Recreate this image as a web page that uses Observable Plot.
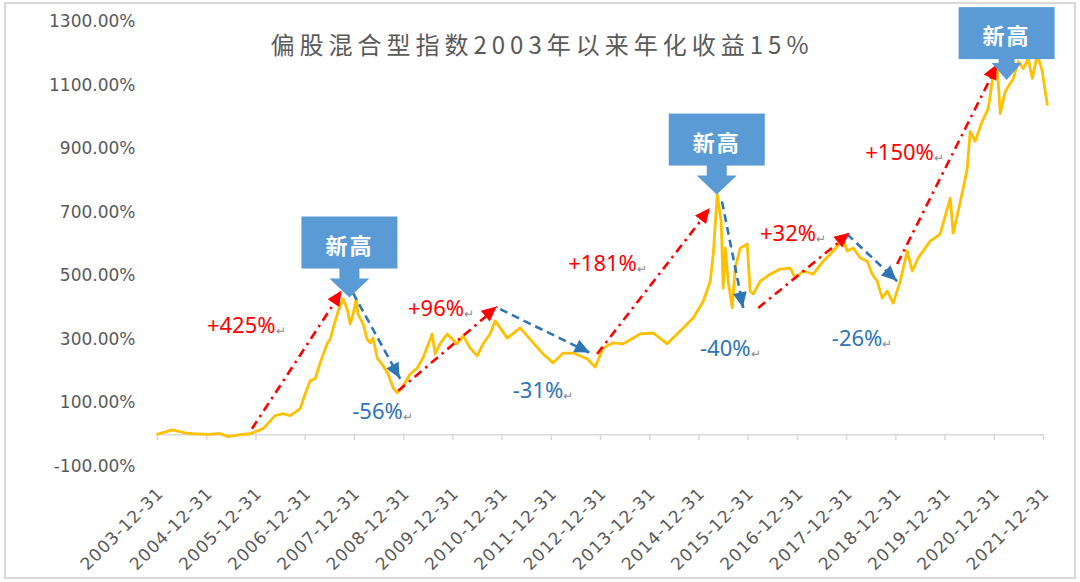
<!DOCTYPE html>
<html><head><meta charset="utf-8">
<script src="https://cdn.jsdelivr.net/npm/d3@7"></script>
<script src="https://cdn.jsdelivr.net/npm/@observablehq/plot@0.6"></script>
<style>
html,body{margin:0;padding:0;background:#fff;}
#wrap{position:relative;width:1080px;height:582px;overflow:hidden;background:#fff;}
#chart{position:absolute;left:0;top:0;}
#title{position:absolute;left:0;top:26px;width:1084px;text-align:center;font-family:"Noto Sans CJK SC",sans-serif;font-size:24px;letter-spacing:5px;color:#595959;}
#border{position:absolute;left:4px;top:2px;width:1068px;height:573px;border:2px solid #d9d9d9;pointer-events:none;}
</style></head><body>
<div id="wrap"><div id="chart"></div><div id="title"></div><div id="border"></div></div>
<script>
const title = "偏股混合型指数2003年以来年化收益15%";

const seriesDates = [
 "2003-12-31","2004-02-25","2004-04-17","2004-07-22","2004-09-20","2005-01-24","2005-04-08","2005-06-07","2005-09-04","2005-11-18",
 "2006-02-22","2006-05-22","2006-07-21","2006-09-11","2006-11-24","2006-12-31","2007-02-06","2007-03-15","2007-04-21","2007-06-12","2007-07-05","2007-07-27","2007-09-02","2007-10-09","2007-11-08","2007-11-30","2007-12-22",
 "2008-01-13","2008-01-27","2008-03-05","2008-04-03","2008-04-26","2008-05-18","2008-06-17","2008-07-31","2008-09-06","2008-10-13","2008-11-12","2008-12-19",
 "2009-02-17","2009-04-10","2009-05-24","2009-07-30","2009-08-21","2009-09-27","2009-11-18","2009-12-25",
 "2010-01-31","2010-03-17","2010-05-08","2010-06-29","2010-08-12","2010-10-03","2010-11-09","2010-12-17",
 "2011-02-07","2011-05-14","2011-08-19","2011-11-01","2012-01-14","2012-03-28","2012-06-11","2012-09-22","2012-11-21",
 "2013-01-19","2013-04-04","2013-06-17","2013-10-21","2014-01-26","2014-05-09","2014-08-14","2014-11-18",
 "2015-02-01","2015-03-25","2015-04-16","2015-05-16","2015-06-14","2015-06-29","2015-07-14","2015-08-05","2015-09-04","2015-09-26","2015-11-02","2015-12-24",
 "2016-01-15","2016-02-07","2016-03-30","2016-06-12","2016-08-25","2016-11-07","2016-12-14","2017-02-12","2017-04-27","2017-07-10","2017-09-23","2017-12-06",
 "2018-01-04","2018-02-18","2018-04-11","2018-06-02","2018-07-09","2018-08-15","2018-09-21","2018-10-28","2018-12-12",
 "2019-02-02","2019-03-26","2019-05-02","2019-06-15","2019-09-12","2019-11-25",
 "2020-02-08","2020-03-01","2020-04-07","2020-05-14","2020-06-13","2020-07-05","2020-08-11","2020-10-02","2020-11-16","2020-12-23",
 "2021-01-22","2021-02-13","2021-03-22","2021-05-21","2021-06-27","2021-08-03","2021-09-09","2021-10-09","2021-11-15","2021-12-22","2022-01-13","2022-01-28"
];
const seriesValues = [
 2,8,15,6,3,1,4,-6,0,3,
 19,60,66,60,82,129,170,176,226,286,301,336,389,427,395,348,380,
 427,380,348,301,289,304,242,217,191,148,132,148,
 191,210,242,317,254,286,317,301,
 286,311,273,248,286,317,358,336,
 304,336,289,254,226,257,257,239,213,
 273,289,286,317,320,286,326,367,
 420,483,568,755,672,461,587,483,399,524,587,600,
 452,443,483,505,521,524,493,515,505,546,578,615,
 578,587,556,546,505,483,430,452,414,
 483,578,515,556,609,631,
 744,634,703,775,838,954,923,986,1026,1133,
 1152,1010,1080,1121,1174,1152,1183,1121,1196,1143,1080,1039
];

const yTicks = [-100, 100, 300, 500, 700, 900, 1100, 1300];
const xTickLabels = ["2003-12-31","2004-12-31","2005-12-31","2006-12-31","2007-12-31","2008-12-31","2009-12-31","2010-12-31","2011-12-31","2012-12-31","2013-12-31","2014-12-31","2015-12-31","2016-12-31","2017-12-31","2018-12-31","2019-12-31","2020-12-31","2021-12-31"];

// trend arrows: up = rise (red dash-dot), down = fall (blue dashed)
const arrowKind = ["up","down","up","down","up","down","up","down","up"];
const arrowFromDates = ["2005-12-01","2007-12-20","2008-11-20","2010-12-17","2012-12-05","2015-06-20","2016-03-15","2018-01-03","2019-01-10"];
const arrowFromValues = [19, 446, 138, 395, 254, 734, 399, 631, 537];
const arrowToDates = ["2007-10-01","2008-12-05","2010-11-25","2012-10-15","2015-03-25","2015-11-25","2018-01-25","2019-01-10","2021-01-22"];
const arrowToValues = [452, 176, 402, 257, 712, 399, 634, 483, 1164];

// percent labels
const labelTexts = ["+425%","-56%","+96%","-31%","+181%","-40%","+32%","-26%","+150%"];
const labelKind = ["up","down","up","down","up","down","up","down","up"];
const labelDates = ["2005-01-01","2007-12-15","2009-02-01","2011-03-20","2012-05-05","2015-01-08","2016-03-28","2017-09-12","2018-05-18"];
const labelValues = [342, 72, 395, 138, 537, 270, 631, 301, 885];

// "new high" callouts
const calloutText = "新高";
const calloutDates = ["2007-11-28","2015-05-16","2021-04-05"];
const calloutValues = [430, 754, 1114];

const RED = "#FF0000", BLUE = "#2E75B6", BOX = "#5B9BD5", LINE = "#FFC000";

const series = seriesDates.map((d, i) => ({date: new Date(d), value: seriesValues[i]}));
const arrows = arrowKind.map((k, i) => ({kind: k, x1: new Date(arrowFromDates[i]), y1: arrowFromValues[i], x2: new Date(arrowToDates[i]), y2: arrowToValues[i]}));
const labels = labelTexts.map((t, i) => ({text: t, kind: labelKind[i], date: new Date(labelDates[i]), value: labelValues[i]}));
const callouts = calloutDates.map((d, i) => ({date: new Date(d), value: calloutValues[i]}));
const xTicks = xTickLabels.map(d => new Date(d));

function arrowHeads(index, scales) {
  const g = d3.create("svg:g");
  for (const a of arrows) {
    const x1 = scales.x(a.x1), y1 = scales.y(a.y1), x2 = scales.x(a.x2), y2 = scales.y(a.y2);
    const ang = Math.atan2(y2 - y1, x2 - x1);
    const L = 15, W = 7;
    const bx = x2 - L * Math.cos(ang), by = y2 - L * Math.sin(ang);
    const px = -Math.sin(ang) * W, py = Math.cos(ang) * W;
    g.append("path")
      .attr("d", `M${x2},${y2}L${bx + px},${by + py}L${bx - px},${by - py}Z`)
      .attr("fill", a.kind === "up" ? RED : BLUE);
  }
  return g.node();
}

function calloutMarks(index, scales) {
  const g = d3.create("svg:g");
  callouts.forEach((c, i) => {
    const cx = scales.x(c.date), ty = scales.y(c.value);
    const compact = i === callouts.length - 1;
    const boxBottom = compact ? ty - 21 : ty - 29;
    const boxTop = boxBottom - 52;
    const stemTop = boxBottom, headTop = compact ? ty - 17 : ty - 19;
    const stemHW = compact ? 8 : 10, headHW = compact ? 15 : 20;
    g.append("rect").attr("x", cx - 48).attr("y", boxTop).attr("width", 96).attr("height", 52).attr("fill", BOX);
    g.append("path")
      .attr("d", `M${cx - stemHW},${stemTop - 1}L${cx + stemHW},${stemTop - 1}L${cx + stemHW},${headTop}L${cx + headHW},${headTop}L${cx},${ty}L${cx - headHW},${headTop}L${cx - stemHW},${headTop}Z`)
      .attr("fill", BOX);
    g.append("text").attr("x", cx).attr("y", boxBottom - 25)
      .attr("text-anchor", "middle").attr("dominant-baseline", "central")
      .attr("fill", "#fff").attr("font-size", 22).attr("font-weight", 600)
      .attr("letter-spacing", "2px")
      .attr("font-family", '"Noto Sans CJK SC", sans-serif')
      .text(calloutText);
  });
  return g.node();
}

const chart = Plot.plot({
  width: 1080,
  height: 582,
  marginLeft: 157,
  marginRight: 37,
  marginTop: 21,
  marginBottom: 116,
  style: {background: "transparent", fontFamily: "DejaVu Sans, sans-serif"},
  x: {type: "utc", domain: [new Date("2003-12-31"), new Date("2021-12-31")], axis: null},
  y: {domain: [-100, 1300], axis: null},
  marks: [
    Plot.ruleY([0], {stroke: "#d9d9d9", strokeWidth: 1.5}),
    Plot.ruleX(xTicks, {x: d => d, y1: 0, y2: 0, insetBottom: -6, stroke: "#d9d9d9", strokeWidth: 1.5}),
    Plot.text(yTicks, {y: d => d, frameAnchor: "left", textAnchor: "end", dx: -22, text: d => d.toFixed(2) + "%", fill: "#595959", fontSize: 17, fontFamily: "DejaVu Sans"}),
    Plot.text(xTickLabels, {x: d => new Date(d), frameAnchor: "bottom", rotate: -45, textAnchor: "end", lineAnchor: "middle", dx: 3, dy: 24, text: d => d, fill: "#595959", fontSize: 17, fontFamily: "DejaVu Sans"}),
    Plot.line(series, {x: "date", y: "value", stroke: LINE, strokeWidth: 2.8, strokeLinejoin: "round"}),
    Plot.link(arrows.filter(a => a.kind === "up"), {x1: "x1", y1: "y1", x2: "x2", y2: "y2", stroke: RED, strokeWidth: 2.6, strokeDasharray: "9,5,2.5,5"}),
    Plot.link(arrows.filter(a => a.kind === "down"), {x1: "x1", y1: "y1", x2: "x2", y2: "y2", stroke: BLUE, strokeWidth: 2.6, strokeDasharray: "8,5"}),
    arrowHeads,
    Plot.text(labels, {x: "date", y: "value", text: "text", textAnchor: "start", fill: d => d.kind === "up" ? RED : BLUE, fontSize: 22, fontFamily: "Noto Sans"}),
    calloutMarks
  ]
});
document.getElementById("chart").appendChild(chart);
document.getElementById("title").textContent = title;

const labelSet = new Set(labelTexts);
const tickSet = new Set(xTickLabels);
chart.querySelectorAll("text").forEach(t => {
  const s = t.textContent;
  if (labelSet.has(s)) {
    // small grey paragraph mark after each percent label, as in the source document
    const ts = document.createElementNS("http://www.w3.org/2000/svg", "tspan");
    ts.textContent = "↵";
    ts.setAttribute("fill", "#8c8c8c");
    ts.setAttribute("font-size", "12");
    ts.setAttribute("dy", "2");
    t.appendChild(ts);
  } else if (tickSet.has(s)) {
    t.setAttribute("letter-spacing", "1px");
  }
});
</script>
</body></html>
